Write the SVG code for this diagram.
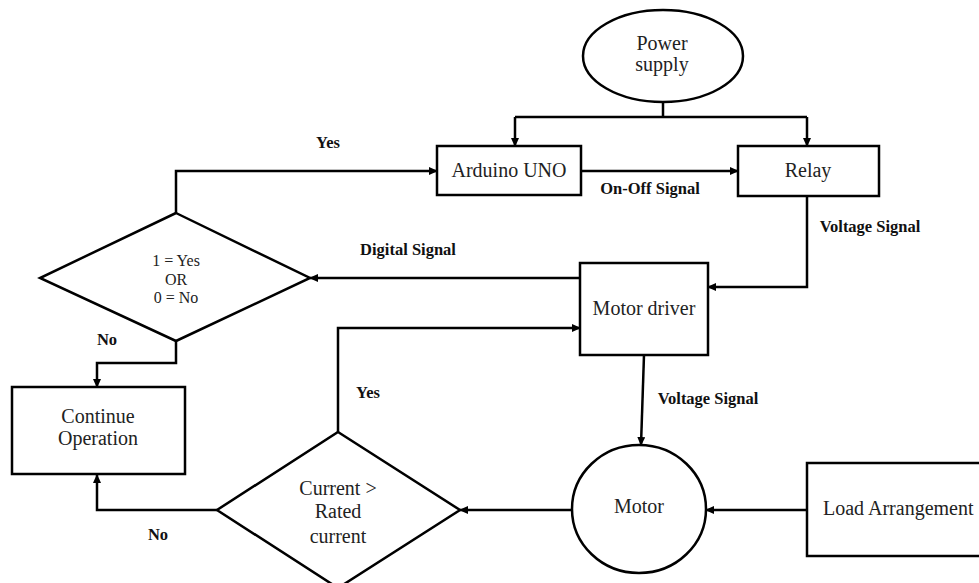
<svg xmlns="http://www.w3.org/2000/svg" width="979" height="583" viewBox="0 0 979 583">
<style>
.s{fill:#fff;stroke:#000;stroke-width:2.5}
.t{font-family:'Liberation Serif','Times New Roman',serif;font-size:20px;fill:#222;text-anchor:middle}
.d{font-family:'Liberation Serif','Times New Roman',serif;font-size:16px;fill:#222;text-anchor:middle}
.b{font-family:'Liberation Serif','Times New Roman',serif;font-size:16.5px;font-weight:bold;fill:#111;text-anchor:middle}
.c{fill:none;stroke:#000;stroke-width:2.5}
</style>
<defs>
<marker id="a" markerUnits="userSpaceOnUse" markerWidth="9" markerHeight="8" refX="8" refY="4" orient="auto">
<path d="M0,0 L9,4 L0,8 Z" fill="#000"/>
</marker>
</defs>
<rect width="979" height="583" fill="#fff"/>
<g id="connectors">
<path class="c" d="M663,102 V117"/>
<path class="c" d="M515,117 H807"/>
<path class="c" d="M515,117 V146" marker-end="url(#a)"/>
<path class="c" d="M807,117 V146" marker-end="url(#a)"/>
<path class="c" d="M581,171 H738" marker-end="url(#a)"/>
<path class="c" d="M807,196 V287 H708" marker-end="url(#a)"/>
<path class="c" d="M580,278 H310" marker-end="url(#a)"/>
<path class="c" d="M176,213 V171 H437" marker-end="url(#a)"/>
<path class="c" d="M176,341 V363 H97 V387" marker-end="url(#a)"/>
<path class="c" d="M644,355 L641,445" marker-end="url(#a)"/>
<path class="c" d="M807,510 H706" marker-end="url(#a)"/>
<path class="c" d="M572,510 H460" marker-end="url(#a)"/>
<path class="c" d="M338,432 V328 H580" marker-end="url(#a)"/>
<path class="c" d="M217,510 H97 V475" marker-end="url(#a)"/>
<text class="b" x="650" y="194">On-Off Signal</text>
<text class="b" x="870" y="232">Voltage Signal</text>
<text class="b" x="408" y="255">Digital Signal</text>
<text class="b" x="328" y="148">Yes</text>
<text class="b" x="107" y="345">No</text>
<text class="b" x="708" y="404">Voltage Signal</text>
<text class="b" x="368" y="398">Yes</text>
<text class="b" x="158" y="540">No</text>
</g>
<g id="power">
<ellipse class="s" cx="663" cy="56" rx="80" ry="46"/>
<text class="t" x="662" y="50">Power</text>
<text class="t" x="662" y="71">supply</text>
</g>
<g id="arduino">
<rect class="s" x="437" y="146" width="144" height="49"/>
<text class="t" x="509" y="177">Arduino UNO</text>
</g>
<g id="relay">
<rect class="s" x="738" y="146" width="141" height="50"/>
<text class="t" x="808" y="177">Relay</text>
</g>
<g id="decision1">
<polygon class="s" points="176,213 310,278 176,341 40,278"/>
<text class="d" x="176" y="266">1 = Yes</text>
<text class="d" x="176" y="285">OR</text>
<text class="d" x="176" y="303">0 = No</text>
</g>
<g id="motor-driver">
<rect class="s" x="580" y="263" width="128" height="92"/>
<text class="t" x="644" y="315">Motor driver</text>
</g>
<g id="continue">
<rect class="s" x="12" y="387" width="173" height="87"/>
<text class="t" x="98" y="423">Continue</text>
<text class="t" x="98" y="445">Operation</text>
</g>
<g id="decision2">
<polygon class="s" points="338,432 460,510 338,588 217,510"/>
<text class="t" x="338" y="495">Current &gt;</text>
<text class="t" x="338" y="518">Rated</text>
<text class="t" x="338" y="543">current</text>
</g>
<g id="motor">
<ellipse class="s" cx="639" cy="509" rx="67" ry="64"/>
<text class="t" x="639" y="513">Motor</text>
</g>
<g id="load">
<rect class="s" x="807" y="463" width="185" height="93"/>
<text class="t" x="823" y="515" style="text-anchor:start">Load Arrangement</text>
</g>
</svg>
